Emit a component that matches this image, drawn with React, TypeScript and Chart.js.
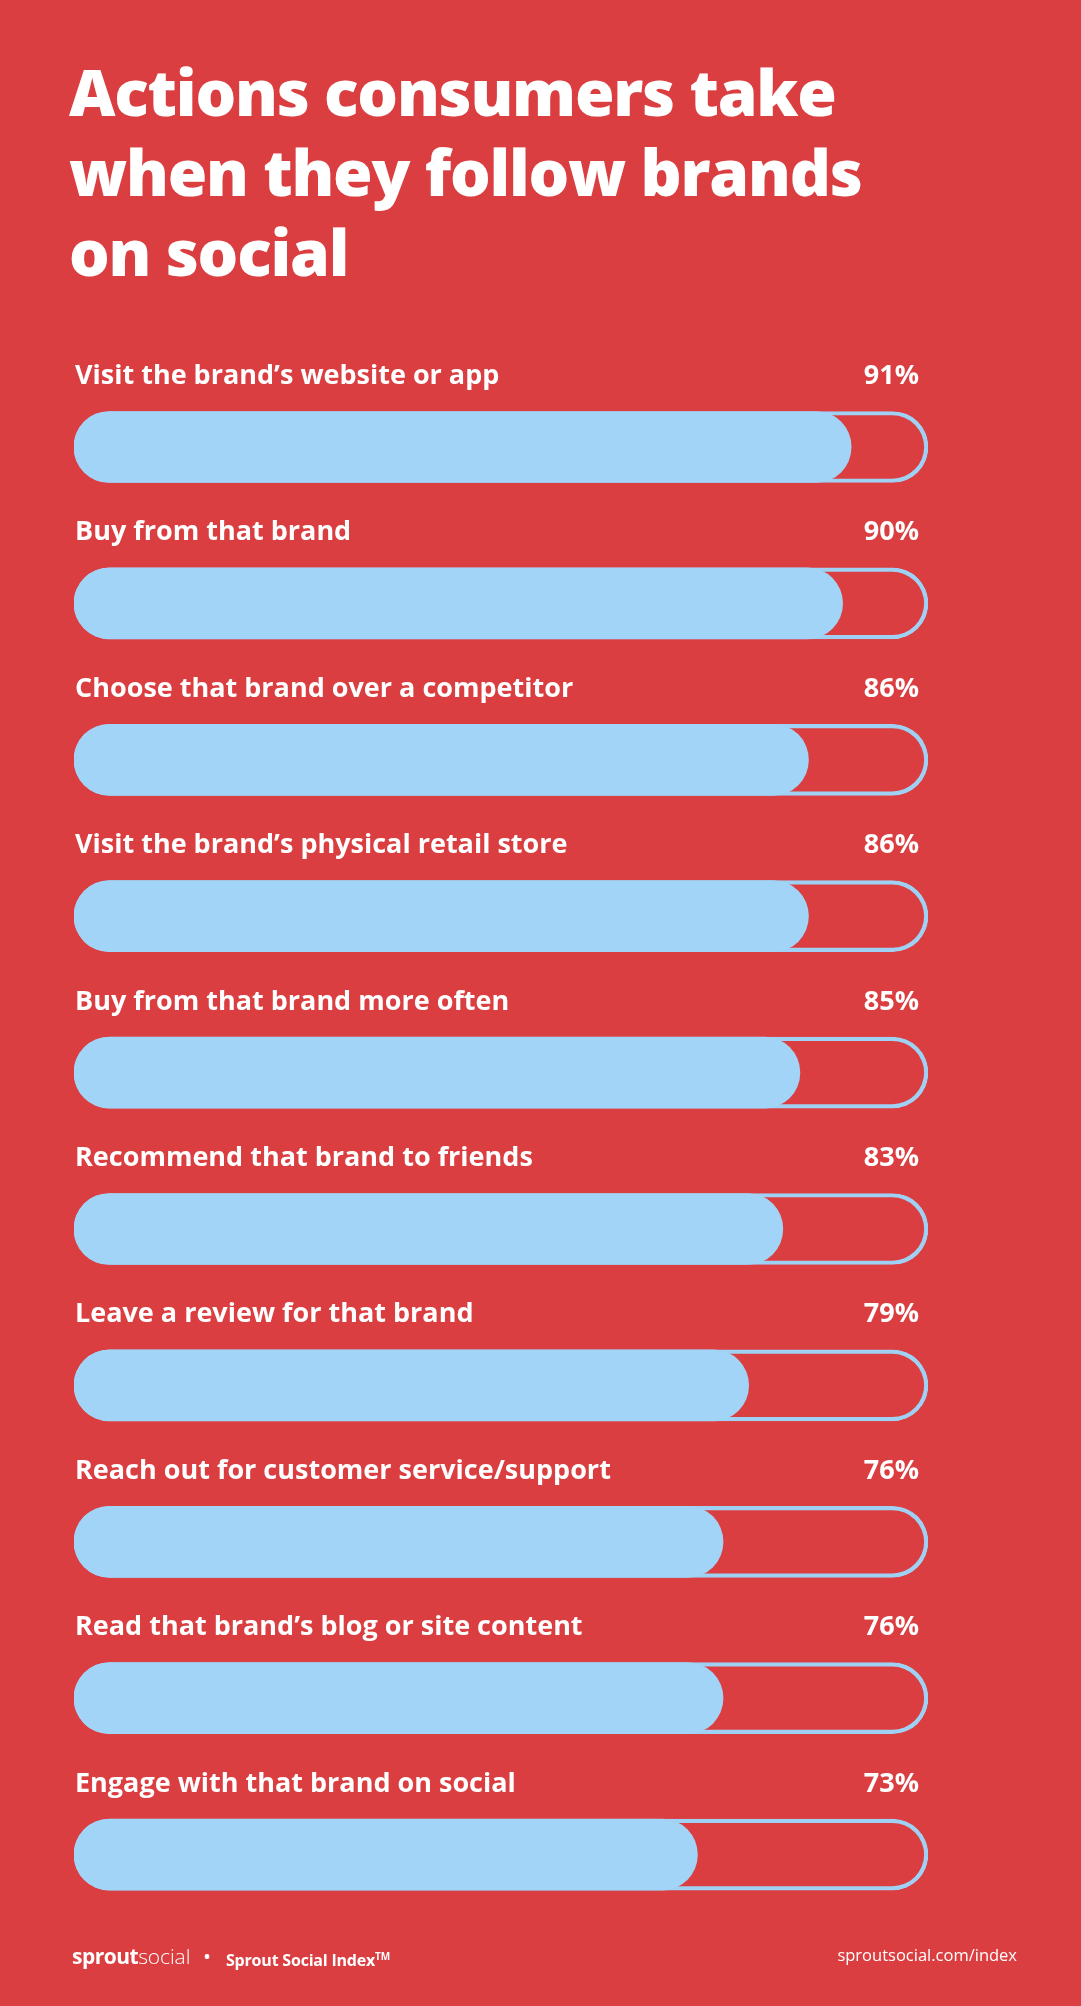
import React, { useEffect, useRef } from "react";
import { Chart, registerables } from "chart.js";

Chart.register(...registerables);

const categories = [
  "Visit the brand\u2019s website or app",
  "Buy from that brand",
  "Choose that brand over a competitor",
  "Visit the brand\u2019s physical retail store",
  "Buy from that brand more often",
  "Recommend that brand to friends",
  "Leave a review for that brand",
  "Reach out for customer service/support",
  "Read that brand\u2019s blog or site content",
  "Engage with that brand on social",
];
const values = [91, 90, 86, 86, 85, 83, 79, 76, 76, 73];
const trackValues = [100, 100, 100, 100, 100, 100, 100, 100, 100, 100];
const valueLabels = ["91%", "90%", "86%", "86%", "85%", "83%", "79%", "76%", "76%", "73%"];
const titleLines = ["Actions consumers take", "when they follow brands", "on social"];

const RED = "#db3e40";
const BLUE = "#a2d4f7";
const OUTLINE = "#9fd1f4";
const FONT = "'Open Sans', Lato, sans-serif";

const CANVAS_TOP = 300;
const CANVAS_H = 1660;

const labelPlugin = {
  id: "barLabels",
  afterDatasetsDraw(chart: any) {
    const ctx = chart.ctx;
    const meta = chart.getDatasetMeta(1);
    ctx.save();
    ctx.fillStyle = "#ffffff";
    ctx.textBaseline = "alphabetic";
    ctx.font = `700 27px ${FONT}`;
    meta.data.forEach((bar: any, i: number) => {
      const y = bar.y - 63;
      ctx.textAlign = "left";
      ctx.fillText(categories[i], 75, y);
      ctx.textAlign = "right";
      ctx.fillText(valueLabels[i], 919, y);
    });
    ctx.restore();
  },
};

function BarChart() {
  const ref = useRef<HTMLCanvasElement | null>(null);
  useEffect(() => {
    if (!ref.current) return;
    const chart = new Chart(ref.current, {
      type: "bar",
      data: {
        labels: categories,
        datasets: [
          {
            label: "Share",
            data: values,
            backgroundColor: BLUE,
            borderWidth: 0,
            borderRadius: 36,
            borderSkipped: false,
            barThickness: 71,
            grouped: false,
            order: 0,
          } as any,
          {
            label: "Track",
            data: trackValues,
            backgroundColor: "rgba(0,0,0,0)",
            borderColor: OUTLINE,
            borderWidth: 3.5,
            borderRadius: 36,
            borderSkipped: false,
            barThickness: 71,
            grouped: false,
            order: 1,
          } as any,
        ],
      },
      options: {
        indexAxis: "y",
        responsive: false,
        animation: false,
        layout: { padding: { left: 74, right: 153, top: 68.8, bottom: 27.2 } },
        scales: {
          x: { min: 0, max: 100, display: false },
          y: { display: false },
        },
        plugins: {
          legend: { display: false },
          tooltip: { enabled: false },
        },
      },
      plugins: [labelPlugin],
    });
    return () => chart.destroy();
  }, []);
  return (
    <canvas
      ref={ref}
      width={1081}
      height={CANVAS_H}
      style={{ position: "absolute", left: 0, top: CANVAS_TOP, width: 1081, height: CANVAS_H }}
    />
  );
}

export default function App() {
  useEffect(() => {
    document.body.style.margin = "0";
  }, []);
  const footBase: React.CSSProperties = {
    position: "absolute",
    top: 1942,
    lineHeight: "28px",
    whiteSpace: "nowrap",
  };
  return (
    <div
      style={{
        position: "relative",
        width: 1081,
        height: 2006,
        background: RED,
        overflow: "hidden",
        fontFamily: FONT,
        color: "#ffffff",
      }}
    >
      <div
        style={{
          position: "absolute",
          left: 69,
          top: 52,
          fontSize: 64,
          fontWeight: 800,
          lineHeight: "80px",
          letterSpacing: -1.2,
          whiteSpace: "nowrap",
        }}
      >
        {titleLines.map((t, i) => (
          <div key={i}>{t}</div>
        ))}
      </div>
      <BarChart />
      <div style={{ ...footBase, left: 72 }}>
        <span style={{ fontSize: 21, fontWeight: 700, letterSpacing: -0.5 }}>sprout</span>
        <span style={{ fontSize: 21, fontWeight: 300, letterSpacing: -0.1 }}>social</span>
      </div>
      <div style={{ ...footBase, left: 204, fontSize: 16, fontWeight: 700 }}>•</div>
      <div style={{ ...footBase, left: 226, fontSize: 16, fontWeight: 700, letterSpacing: -0.2 }}>
        Sprout Social Index<sup style={{ fontSize: 10 }}>TM</sup>
      </div>
      <div
        style={{
          ...footBase,
          right: 64,
          top: 1943,
          fontSize: 16.5,
          fontWeight: 400,
          lineHeight: "normal",
        }}
      >
        sproutsocial.com/index
      </div>
    </div>
  );
}
